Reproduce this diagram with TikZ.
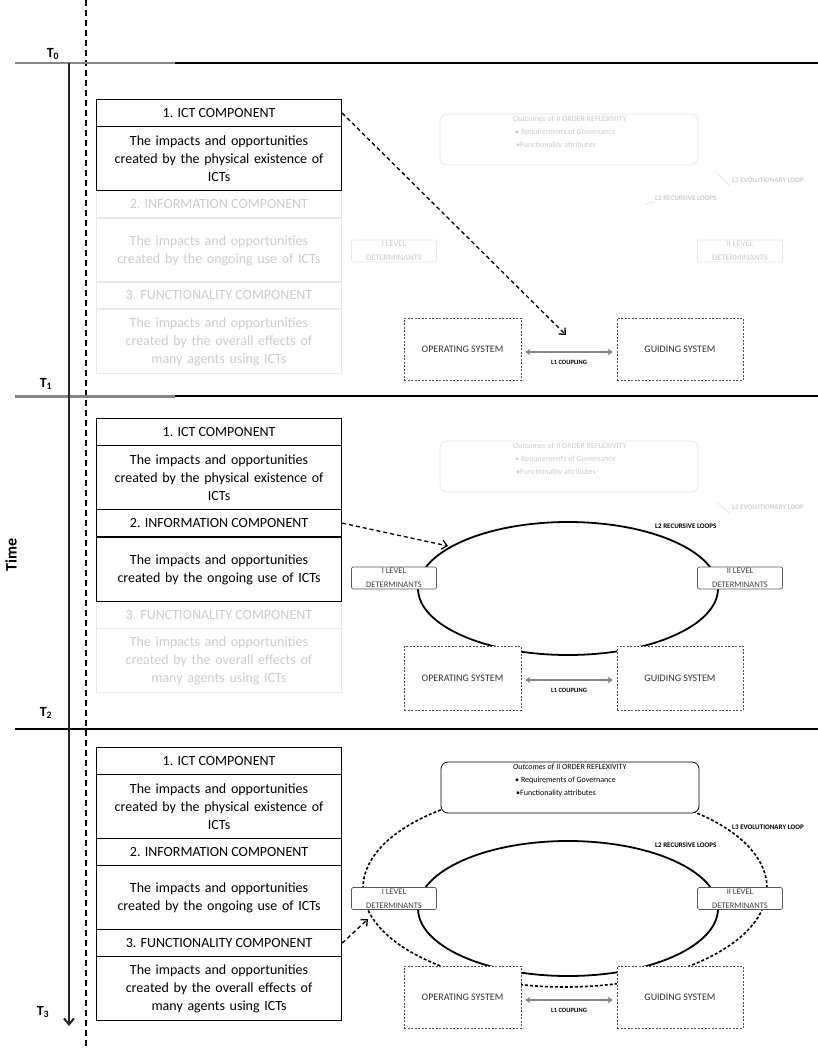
\documentclass[tikz,border=0pt]{standalone}
\usepackage{fontspec}
\setmainfont{Carlito}
\usetikzlibrary{arrows.meta}
\definecolor{fadeline}{gray}{0.91}
\definecolor{fadetext}{gray}{0.80}
\definecolor{midgray}{gray}{0.52}
\newcommand\ictbody{The impacts and opportunities\\created by the physical existence of\\ICTs}
\newcommand\infobody{The impacts and opportunities\\created by the ongoing use of ICTs}
\newcommand\funcbody{The impacts and opportunities\\created by the overall effects of\\many agents using ICTs}
\newcommand\outcometext{\textit{Outcomes of} II ORDER REFLEXIVITY\\\hspace*{2pt}\textbullet{} Requirements of Governance\\\hspace*{3pt}\textbullet Functionality attributes}
\begin{document}
\begin{tikzpicture}[x=1pt,y=-1pt,
  cell/.style={draw=black, line width=1.2pt, minimum width=245pt, inner sep=0pt, anchor=north west, align=center, font=\fontsize{14}{18}\selectfont},
  hdr/.style={cell, minimum height=27pt},
  bdy/.style={cell, minimum height=64pt, text width=240pt},
  faded/.style={draw=fadeline, text=fadetext, line width=0.8pt},
  sysbox/.style={draw=black!70, dash pattern=on 2pt off 1.5pt, line width=0.8pt, fill=white, inner sep=0pt, font=\fontsize{10}{12}\selectfont, text=black!80},
  lvl/.style={draw=black!65, rounded corners=2pt, fill=white, minimum width=85pt, minimum height=22pt, inner sep=0pt, align=center, font=\fontsize{8.5}{14}\selectfont, text=black!75, line width=0.7pt},
  fadelvl/.style={lvl, draw=fadeline, text=fadetext},
  outbox/.style={draw=black, rounded corners=7pt, fill=white, minimum width=258pt, minimum height=51pt, inner sep=0pt, line width=0.8pt},
  outtxt/.style={anchor=north west, align=left, inner sep=0pt, font=\fontsize{8}{13}\selectfont},
  looplab/.style={anchor=west, inner sep=0pt, font=\fontsize{7}{8}\selectfont\bfseries},
  cpl/.style={draw=midgray, line width=2pt, {Stealth[length=5pt,width=7pt]}-{Stealth[length=5pt,width=7pt]}, shorten <=4pt, shorten >=4pt},
  cpllab/.style={inner sep=0pt, font=\fontsize{6.5}{7}\selectfont\bfseries},
  dasharr/.style={line width=1.3pt, dash pattern=on 4pt off 3pt, -{Straight Barb[length=5pt,width=9pt]}},
  solidloop/.style={line width=1.8pt},
  dashloop/.style={line width=1.6pt, dash pattern=on 3pt off 2pt},
  tlab/.style={font=\fontsize{14}{16}\selectfont\bfseries, inner sep=0pt},
  faintseg/.style={draw=fadeline, line width=1pt},
]
\useasboundingbox (0,0) rectangle (818,1048);

% ---------- time frame ----------
\coordinate (dv0) at (86,0);
\coordinate (dv1) at (86,1048);
\draw[dash pattern=on 6pt off 4pt, line width=1.2pt] (dv0) -- (dv1);

\coordinate (h0a) at (15,63);  \coordinate (h0b) at (175,63);  \coordinate (h0c) at (818,63);
\coordinate (h1a) at (15,396); \coordinate (h1b) at (175,396); \coordinate (h1c) at (818,396);
\coordinate (h2a) at (15,729); \coordinate (h2c) at (818,729);
\draw[midgray, line width=2.5pt] (h0a) -- (h0b);
\draw[line width=1.8pt] (h0b) -- (h0c);
\draw[midgray, line width=3pt] (h1a) -- (h1b);
\draw[line width=1.2pt] (h1b) -- (h1c);
\draw[line width=1.6pt] (h2a) -- (h2c);

\coordinate (ax0) at (69,63);
\coordinate (ax1) at (69,1026);
\draw[line width=2pt, black!85, -{Straight Barb[length=6pt,width=10pt]}] (ax0) -- (ax1);

\node[tlab] (t0) at (53,54) {T\textsubscript{0}};
\node[tlab] (t1) at (46,384) {T\textsubscript{1}};
\node[tlab] (t2) at (46,713) {T\textsubscript{2}};
\node[tlab] (t3) at (43,1012) {T\textsubscript{3}};
\node[rotate=90, inner sep=0pt, font=\fontsize{16}{18}\selectfont\bfseries] (time) at (11,555) {Time};

% ---------- panel 1 (left) ----------
\node[hdr,faded] (c1) at (96,190) {2. INFORMATION COMPONENT};
\node[bdy,faded] (d1) at (96,218) {\infobody};
\node[hdr,faded] (e1) at (96,281) {3. FUNCTIONALITY COMPONENT};
\node[bdy,faded] (f1) at (96,309) {\funcbody};
\node[hdr] (a1) at (96,99) {1. ICT COMPONENT};
\node[bdy] (b1) at (96,126) {\ictbody};

% ---------- panel 2 (left) ----------
\node[hdr,faded] (e2) at (96,601) {3. FUNCTIONALITY COMPONENT};
\node[bdy,faded] (f2) at (96,628) {\funcbody};
\node[hdr] (a2) at (96,418) {1. ICT COMPONENT};
\node[bdy] (b2) at (96,445) {\ictbody};
\node[hdr] (c2) at (96,509) {2. INFORMATION COMPONENT};
\node[bdy] (d2) at (96,537) {\infobody};

% ---------- panel 3 (left) ----------
\node[hdr] (a3) at (96,747) {1. ICT COMPONENT};
\node[bdy] (b3) at (96,774) {\ictbody};
\node[hdr] (c3) at (96,838) {2. INFORMATION COMPONENT};
\node[bdy] (d3) at (96,865) {\infobody};
\node[hdr] (e3) at (96,929) {3. FUNCTIONALITY COMPONENT};
\node[bdy] (f3) at (96,956) {\funcbody};

% ---------- panel 1 (right) ----------
\node[outbox, draw=fadeline] (o1) at (569,139.5) {};
\node[outtxt, text=fadetext] (o1t) at (513,116) {\outcometext};
\coordinate (s1a) at (717,173); \coordinate (s1b) at (730,186);
\draw[faintseg] (s1a) -- (s1b);
\coordinate (s1c) at (645,204); \coordinate (s1d) at (655,202);
\draw[faintseg] (s1c) -- (s1d);
\node[looplab, text=fadetext] (l3a) at (732,180) {L3 EVOLUTIONARY LOOP};
\node[looplab, text=fadetext] (l2a) at (655,198) {L2 RECURSIVE LOOPS};
\node[fadelvl] (lv1a) at (394,251) {I LEVEL\\DETERMINANTS};
\node[fadelvl] (lv2a) at (740,251) {II LEVEL\\DETERMINANTS};
\node[sysbox, minimum width=117pt, minimum height=62pt] (os1) at (462.5,349) {OPERATING SYSTEM};
\node[sysbox, minimum width=126pt, minimum height=62pt] (gs1) at (680,349) {GUIDING SYSTEM};
\draw[cpl] ([yshift=-3pt]os1.east) -- ([yshift=-3pt]gs1.west);
\node[cpllab] (cl1) at (569,362) {L1 COUPLING};
\coordinate (tip1) at (566,335);
\draw[dasharr] (a1.east) -- (tip1);

% ---------- panel 2 (right) ----------
\draw[solidloop] (568,588.5) ellipse [x radius=150pt, y radius=66.5pt];
\node[outbox, draw=fadeline] (o2) at (569,466.5) {};
\node[outtxt, text=fadetext] (o2t) at (513,443) {\outcometext};
\coordinate (s2a) at (717,502); \coordinate (s2b) at (730,514);
\draw[faintseg] (s2a) -- (s2b);
\node[looplab, text=fadetext] (l3b) at (732,507) {L3 EVOLUTIONARY LOOP};
\node[looplab] (l2b) at (655,526) {L2 RECURSIVE LOOPS};
\node[lvl] (lv1b) at (394,578) {I LEVEL\\DETERMINANTS};
\node[lvl] (lv2b) at (740,578) {II LEVEL\\DETERMINANTS};
\node[sysbox, minimum width=117pt, minimum height=64pt] (os2) at (462.5,678) {OPERATING SYSTEM};
\node[sysbox, minimum width=126pt, minimum height=64pt] (gs2) at (680,678) {GUIDING SYSTEM};
\draw[cpl] ([yshift=-2pt]os2.east) -- ([yshift=-2pt]gs2.west);
\node[cpllab] (cl2) at (569,690) {L1 COUPLING};
\coordinate (tip2) at (448,546);
\draw[dasharr] (c2.east) -- (tip2);

% ---------- panel 3 (right) ----------
\draw[dashloop] (565,888) ellipse [x radius=202pt, y radius=99pt];
\draw[solidloop] (568,908.5) ellipse [x radius=150pt, y radius=67.5pt];
\node[outbox] (o3) at (570,787.5) {};
\node[outtxt] (o3t) at (513,764) {\outcometext};
\node[looplab] (l3c) at (732,827) {L3 EVOLUTIONARY LOOP};
\node[looplab] (l2c) at (655,845) {L2 RECURSIVE LOOPS};
\node[lvl] (lv1c) at (394,898.5) {I LEVEL\\DETERMINANTS};
\node[lvl] (lv2c) at (740,898.5) {II LEVEL\\DETERMINANTS};
\node[sysbox, minimum width=117pt, minimum height=62pt] (os3) at (462.5,997) {OPERATING SYSTEM};
\node[sysbox, minimum width=126pt, minimum height=62pt] (gs3) at (680,997) {GUIDING SYSTEM};
\draw[cpl] ([yshift=-3pt]os3.east) -- ([yshift=-3pt]gs3.west);
\node[cpllab] (cl3) at (569,1010) {L1 COUPLING};
\coordinate (tip3) at (368,919);
\draw[dasharr] (e3.east) -- (tip3);
\end{tikzpicture}
\end{document}
